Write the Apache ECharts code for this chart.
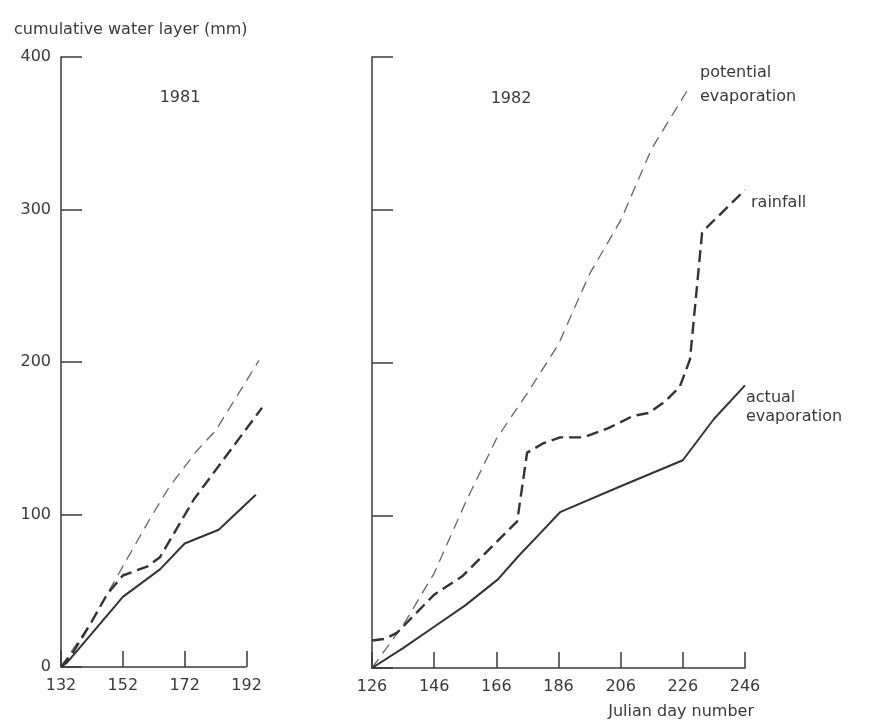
<!DOCTYPE html>
<html>
<head>
<meta charset="utf-8">
<title>cumulative water layer</title>
<script src="https://cdn.jsdelivr.net/npm/echarts@6/dist/echarts.min.js"></script>
<style>
html,body{margin:0;padding:0;background:#fff;}
#main{width:885px;height:722px;}
</style>
</head>
<body>
<div id="main"></div>
<script>
// 1981
var ticks81 = [132, 152, 172, 192];
var actual81 = [[132,0],[134,3],[142,22],[152,46],[164,64],[172,81],[183,90],[195,113]];
var rain81 = [[132,0],[136,10],[142,30],[147,48],[152,60],[160,66],[164,72],[175,110],[186,140],[197,170]];
var potential81 = [[132,0],[142,30],[152,66],[161,98],[167,118],[176,142],[182,155],[196,201]];

// 1982
var ticks82 = [126, 146, 166, 186, 206, 226, 246];
var actual82 = [[126,0],[136,13],[146,27],[156,41],[166.5,58],[173,73],[180,88],[186.5,102],[206,119],[226,136],[236,163],[246,185]];
var rain82 = [[126,18],[130,19],[134,23],[146,48],[155,60],[172.7,96],[175.9,141],[181,147],[186.5,151],[194,151],[202,157],[210,165],[215,167],[220,174],[225,184],[228.3,202],[232.2,285],[233,287],[246,313]];
var potential82 = [[126,0],[136,28],[146,62],[156,108],[166,150],[176,180],[186,212],[196,258],[206,293],[216,340],[228,380]];

var yTicks = [0, 100, 200, 300, 400];

var ink = '#3a3a3a';
var font = 'DejaVu Sans';

var dom = document.getElementById('main');
var myChart = echarts.init(dom, null, {renderer: 'canvas'});

function xAx(idx, mn, mx, ticks, showLine) {
	return {
		type: 'value',
		gridIndex: idx,
		min: mn,
		max: mx,
		interval: 20,
		axisLine: {show: showLine, onZero: false, lineStyle: {color: ink, width: 1.5}},
		axisTick: {show: true, inside: true, length: 16, customValues: ticks, lineStyle: {color: ink, width: 1.5}},
		axisLabel: {show: true, customValues: ticks, color: ink, fontFamily: font, fontSize: 16, margin: 11},
		splitLine: {show: false}
	};
}
function yAx(idx, showLabel) {
	return {
		type: 'value',
		gridIndex: idx,
		min: yTicks[0],
		max: yTicks[yTicks.length - 1],
		interval: 100,
		axisLine: {show: true, lineStyle: {color: ink, width: 1.5}},
		axisTick: {show: true, inside: true, length: 21, lineStyle: {color: ink, width: 1.5}},
		axisLabel: {show: showLabel, color: ink, fontFamily: font, fontSize: 16, margin: 10},
		splitLine: {show: false}
	};
}
function line(idx, data, type) {
	var s = {
		type: 'line',
		xAxisIndex: idx,
		yAxisIndex: idx,
		data: data,
		showSymbol: false,
		symbol: 'none',
		clip: false,
		silent: true,
		animation: false
	};
	if (type == 'actual') {
		s.lineStyle = {color: '#333', width: 2};
	} else if (type == 'rain') {
		s.lineStyle = {color: '#333', width: 2.4, type: [12, 6]};
	} else {
		s.lineStyle = {color: '#666', width: 1.3, type: [11, 7]};
	}
	return s;
}

var s81 = line(0, potential81, 'pot');
// 1981 x axis line only up to the last tick (192), data run a little beyond
s81.markLine = {
	silent: true,
	symbol: 'none',
	animation: false,
	label: {show: false},
	lineStyle: {color: ink, width: 1.5, type: 'solid'},
	data: [[{coord: [ticks81[0], 0]}, {coord: [ticks81[ticks81.length - 1], 0]}]]
};

var option = {
	backgroundColor: '#fff',
	animation: false,
	grid: [
		{left: 61, top: 57, width: 201, height: 610},
		{left: 372, top: 57, width: 373, height: 611}
	],
	xAxis: [xAx(0, 132, 197, ticks81, false), xAx(1, 126, 246, ticks82, true)],
	yAxis: [yAx(0, true), yAx(1, false)],
	series: [
		s81,
		line(0, rain81, 'rain'),
		line(0, actual81, 'actual'),
		line(1, potential82, 'pot'),
		line(1, rain82, 'rain'),
		line(1, actual82, 'actual')
	],
	graphic: [
		{type: 'text', x: 14, y: 30, style: {text: 'cumulative water layer (mm)', fill: ink, font: '16px "DejaVu Sans"', verticalAlign: 'middle'}},
		{type: 'text', x: 180, y: 98, style: {text: '1981', fill: ink, font: '16px "DejaVu Sans"', align: 'center', verticalAlign: 'middle'}},
		{type: 'text', x: 511, y: 99, style: {text: '1982', fill: ink, font: '16px "DejaVu Sans"', align: 'center', verticalAlign: 'middle'}},
		{type: 'text', x: 700, y: 61, style: {text: 'potential\nevaporation', fill: ink, font: '16px "DejaVu Sans"', lineHeight: 24, verticalAlign: 'top'}},
		{type: 'text', x: 751, y: 203, style: {text: 'rainfall', fill: ink, font: '16px "DejaVu Sans"', verticalAlign: 'middle'}},
		{type: 'text', x: 746, y: 388, style: {text: 'actual\nevaporation', fill: ink, font: '16px "DejaVu Sans"', lineHeight: 19, verticalAlign: 'top'}},
		{type: 'text', x: 754, y: 712, style: {text: 'Julian day number', fill: ink, font: '16px "DejaVu Sans"', align: 'right', verticalAlign: 'middle'}}
	]
};

if (option && typeof option === "object") {
	myChart.setOption(option, true);
}
</script>
</body>
</html>
